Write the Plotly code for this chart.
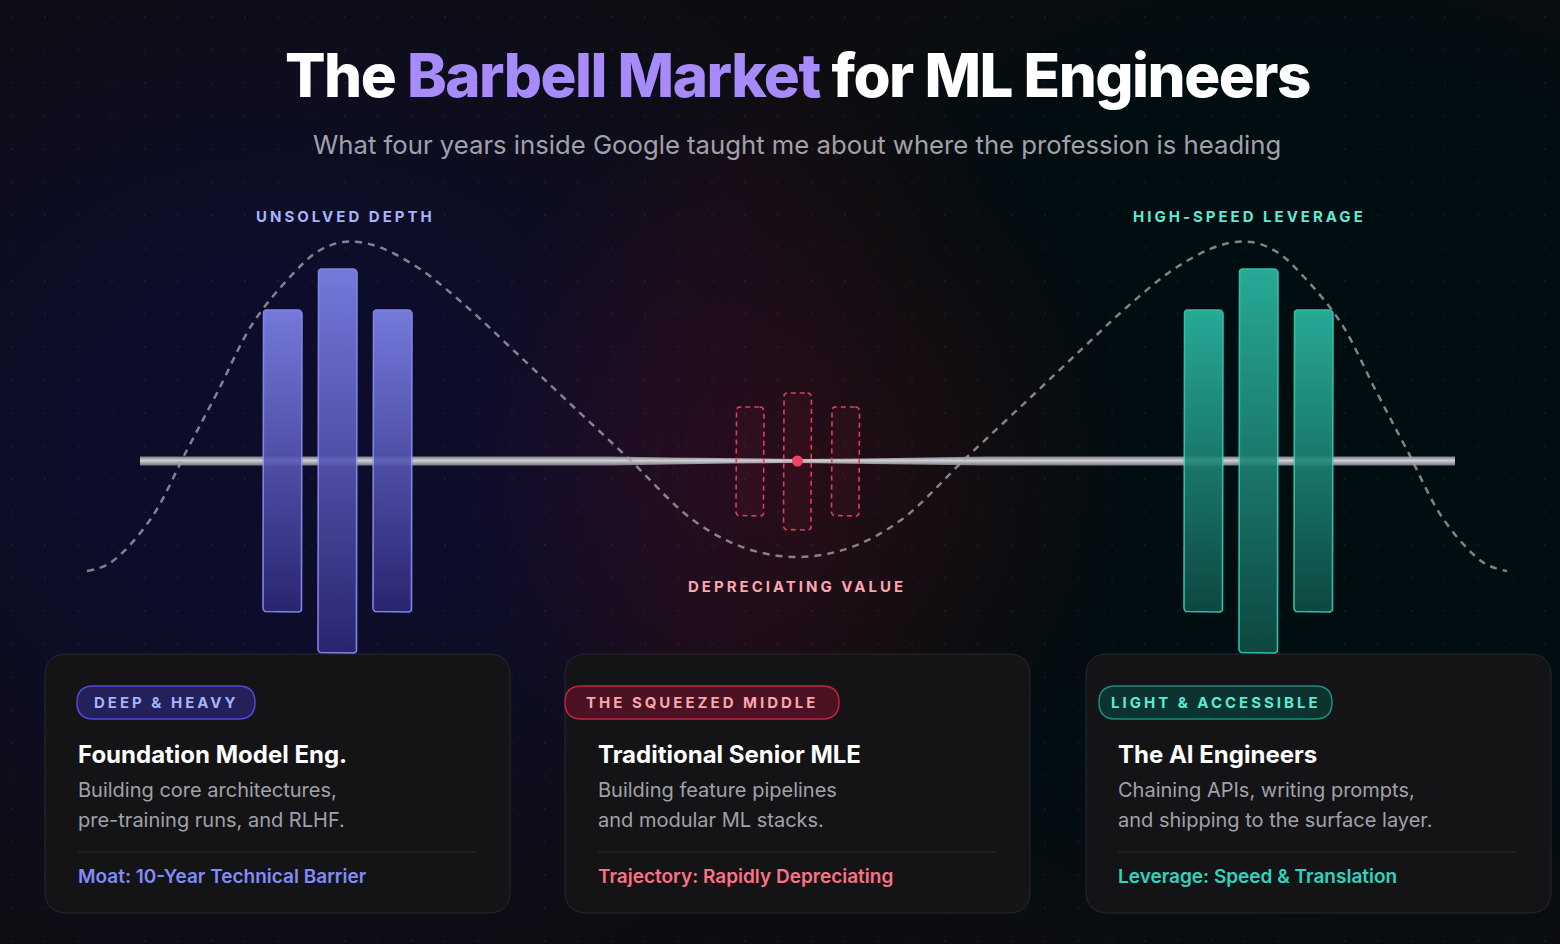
import math
import plotly.graph_objects as go

W, H = 1560, 944
BG = '#0d0d11'
FONT = 'Inter'

# dashed value curve (x, y in px)
curve_x = [87, 110, 150, 187, 217, 253, 290, 317, 343, 373, 417, 467, 510, 563, 627, 693, 745, 797,
           849, 901, 967, 1031, 1084, 1127, 1177, 1221, 1251, 1277, 1304, 1341, 1377, 1407, 1444, 1484, 1507]
curve_y = [571, 563, 520, 450, 393, 323, 277, 252, 242, 245, 267, 307, 347, 397, 457, 520, 548, 557,
           548, 520, 457, 397, 347, 307, 267, 245, 242, 252, 277, 323, 393, 450, 520, 563, 571]

# barbell bar: x stations and half thickness (it thins out in the middle)
bar_x = [140, 610, 670, 730, 797, 865, 925, 985, 1455]
bar_half = [4.5, 4.5, 3.6, 2.6, 2.0, 2.6, 3.6, 4.5, 4.5]
bar_y = 461

# weight plates: centre x, top, bottom
heavy_x = [282.5, 337.5, 392.5]
heavy_top = [310, 269, 310]
heavy_bottom = [612, 653, 612]
light_x = [1203.5, 1258.5, 1313.5]
light_top = [310, 269, 310]
light_bottom = [612, 653, 612]
middle_x = [750, 797.5, 845.5]
middle_top = [407, 393, 407]
middle_bottom = [516, 530, 516]

zone_labels = ['UNSOLVED DEPTH', 'DEPRECIATING VALUE', 'HIGH-SPEED LEVERAGE']
badges = ['DEEP &amp; HEAVY', 'THE SQUEEZED MIDDLE', 'LIGHT &amp; ACCESSIBLE']
card_titles = ['Foundation Model Eng.', 'Traditional Senior MLE', 'The AI Engineers']
card_lines = [['Building core architectures,', 'pre-training runs, and RLHF.'],
              ['Building feature pipelines', 'and modular ML stacks.'],
              ['Chaining APIs, writing prompts,', 'and shipping to the surface layer.']]
card_footers = ['Moat: 10-Year Technical Barrier', 'Trajectory: Rapidly Depreciating',
                'Leverage: Speed &amp; Translation']

INDIGO = dict(top='#7f85ee', bottom='#2c2878', line='#8d92f7', label='#a5b4fc', foot='#818cf8',
              pill='#23205a', pill_line='#524bd6')
ROSE = dict(line='#e23e5a', label='#fda4af', foot='#fb7185', pill='#4a1222', pill_line='#b9283f')
TEAL = dict(top='#2cbba5', bottom='#0f4e46', line='#36d3bb', label='#5eead4', foot='#2dd4bf',
            pill='#0d3330', pill_line='#1f8c7e')


def rounded_path(x0, y0, x1, y1, r):
    return (f'M{x0 + r},{y0} L{x1 - r},{y0} Q{x1},{y0} {x1},{y0 + r} '
            f'L{x1},{y1 - r} Q{x1},{y1} {x1 - r},{y1} L{x0 + r},{y1} '
            f'Q{x0},{y1} {x0},{y1 - r} L{x0},{y0 + r} Q{x0},{y0} {x0 + r},{y0} Z')


def rounded_xy(x0, y0, x1, y1, r, n=6):
    xs, ys = [], []
    corners = [(x1 - r, y0 + r, -90), (x1 - r, y1 - r, 0), (x0 + r, y1 - r, 90), (x0 + r, y0 + r, 180)]
    for cx, cy, a0 in corners:
        for i in range(n + 1):
            a = math.radians(a0 + 90 * i / n)
            xs.append(cx + r * math.cos(a))
            ys.append(cy + r * math.sin(a))
    xs.append(xs[0])
    ys.append(ys[0])
    return xs, ys


def spaced(text, px):
    return f'<span style="letter-spacing:{px}px">{text}</span>'


fig = go.Figure()
shapes = []
annotations = []

# soft background glows: stacks of faint ellipses (centre one drawn last)
glows = [(290, 450, 640, 560, 'rgb(42,42,86)', 0.55),
         (1300, 450, 640, 560, 'rgb(24,74,70)', 0.44),
         (800, 470, 330, 400, 'rgb(92,30,42)', 0.5)]
rings = 36
for cx, cy, rx, ry, col, peak in glows:
    op = 1 - (1 - peak) ** (1 / rings)
    for k in range(rings):
        f = 1 - k / rings
        shapes.append(dict(type='circle', layer='below', x0=cx - rx * f, x1=cx + rx * f,
                           y0=cy - ry * f, y1=cy + ry * f, fillcolor=col, opacity=op, line_width=0))

# bar
bx = bar_x + bar_x[::-1] + [bar_x[0]]
by = [bar_y - h for h in bar_half] + [bar_y + h for h in bar_half[::-1]] + [bar_y - bar_half[0]]
fig.add_trace(go.Scatter(
    x=bx, y=by, mode='lines', fill='toself', line=dict(width=0, color='rgba(0,0,0,0)'),
    fillgradient=dict(type='vertical', start=bar_y - 4.5, stop=bar_y + 4.5,
                      colorscale=[[0, '#7c7c84'], [0.45, '#cfcfd4'], [1, '#75757c']]),
    hoverinfo='skip'))

# dashed curve
fig.add_trace(go.Scatter(
    x=curve_x, y=curve_y, mode='lines', line=dict(color='rgba(160,160,168,0.8)', width=2.5,
                                                  dash='7px,6px', shape='spline', smoothing=1),
    hoverinfo='skip'))


def add_plates(xc, tops, bottoms, w, style):
    for x, t, b in zip(xc, tops, bottoms):
        xs, ys = rounded_xy(x - w / 2, t, x + w / 2, b, 4)
        fig.add_trace(go.Scatter(
            x=xs, y=ys, mode='lines', fill='toself', opacity=0.9,
            line=dict(color=style['line'], width=1.6),
            fillgradient=dict(type='vertical', start=t, stop=b,
                              colorscale=[[0, style['top']], [1, style['bottom']]]),
            hoverinfo='skip'))


add_plates(heavy_x, heavy_top, heavy_bottom, 39, INDIGO)
add_plates(light_x, light_top, light_bottom, 39, TEAL)

for x, t, b in zip(middle_x, middle_top, middle_bottom):
    xs, ys = rounded_xy(x - 14, t, x + 14, b, 4)
    fig.add_trace(go.Scatter(
        x=xs, y=ys, mode='lines', fill='toself', fillcolor='rgba(244,63,94,0.05)',
        line=dict(color=ROSE['line'], width=1.6, dash='5px,4px'), hoverinfo='skip'))

fig.add_trace(go.Scatter(x=[797.5], y=[bar_y], mode='markers',
                         marker=dict(size=11, color='#ef4560'), hoverinfo='skip'))

# title and subtitle
annotations.append(dict(
    x=797, y=75, text=spaced('The <span style="color:#a78bfa">Barbell Market</span> for ML Engineers', -1.5),
    font=dict(family=FONT, size=60, color='#ffffff', weight=800)))
annotations.append(dict(
    x=797, y=144, text='What four years inside Google taught me about where the profession is heading',
    font=dict(family=FONT, size=25.7, color='#a1a1aa')))

# zone labels
for txt, x, y, col in zip(zone_labels, [345, 797, 1249], [216, 586, 216],
                          [INDIGO['label'], ROSE['label'], TEAL['label']]):
    annotations.append(dict(x=x, y=y, text=spaced(txt, 3),
                            font=dict(family=FONT, size=15, color=col, weight=700)))

# cards
card_x0 = [45, 565, 1086]
text_x = [76, 596, 1116]
pill_x0 = [77, 565, 1099]
pill_x1 = [255, 839, 1332]
styles = [INDIGO, ROSE, TEAL]
for i in range(3):
    st = styles[i]
    shapes.append(dict(type='path', layer='between', path=rounded_path(card_x0[i], 654, card_x0[i] + 465, 913, 22),
                       fillcolor='#141416', line=dict(color='#29292e', width=1)))
    shapes.append(dict(type='path', layer='between', path=rounded_path(pill_x0[i], 686, pill_x1[i], 719, 16.5),
                       fillcolor=st['pill'], line=dict(color=st['pill_line'], width=1.5)))
    shapes.append(dict(type='line', layer='between', x0=text_x[i] + 2, x1=text_x[i] + 401, y0=852, y1=852,
                       line=dict(color='#2a2a2f', width=1)))
    annotations.append(dict(x=(pill_x0[i] + pill_x1[i]) / 2, y=702.5, text=spaced(badges[i], 3),
                            font=dict(family=FONT, size=15, color=st['label'], weight=700)))
    annotations.append(dict(x=text_x[i], y=754, xanchor='left', text=card_titles[i],
                            font=dict(family=FONT, size=24, color='#ffffff', weight=700)))
    for j, line in enumerate(card_lines[i]):
        annotations.append(dict(x=text_x[i], y=790 + 30 * j, xanchor='left', text=line,
                                font=dict(family=FONT, size=20, color='#a1a1aa')))
    annotations.append(dict(x=text_x[i], y=876, xanchor='left', text=card_footers[i],
                            font=dict(family=FONT, size=19, color=st['foot'], weight=600)))

for a in annotations:
    a.setdefault('xanchor', 'center')
    a.update(xref='x', yref='y', yanchor='middle', showarrow=False)

fig.update_layout(
    width=W, height=H, margin=dict(l=0, r=0, t=0, b=0),
    paper_bgcolor=BG, plot_bgcolor=BG, showlegend=False,
    shapes=shapes, annotations=annotations,
    xaxis=dict(range=[0, W], showticklabels=False, ticks='', zeroline=False, showline=False,
               showgrid=True, tick0=11.7, dtick=33.33, gridcolor='rgba(255,255,255,0.05)',
               gridwidth=2, griddash='0px,16px,2px,15px', fixedrange=True),
    yaxis=dict(range=[H, 0], showticklabels=False, ticks='', zeroline=False, showline=False,
               showgrid=False, fixedrange=True),
)

fig.write_html('out.html', config={'displayModeBar': False},
               post_script="document.body.style.margin='0';document.body.style.background='#0d0d11';")
